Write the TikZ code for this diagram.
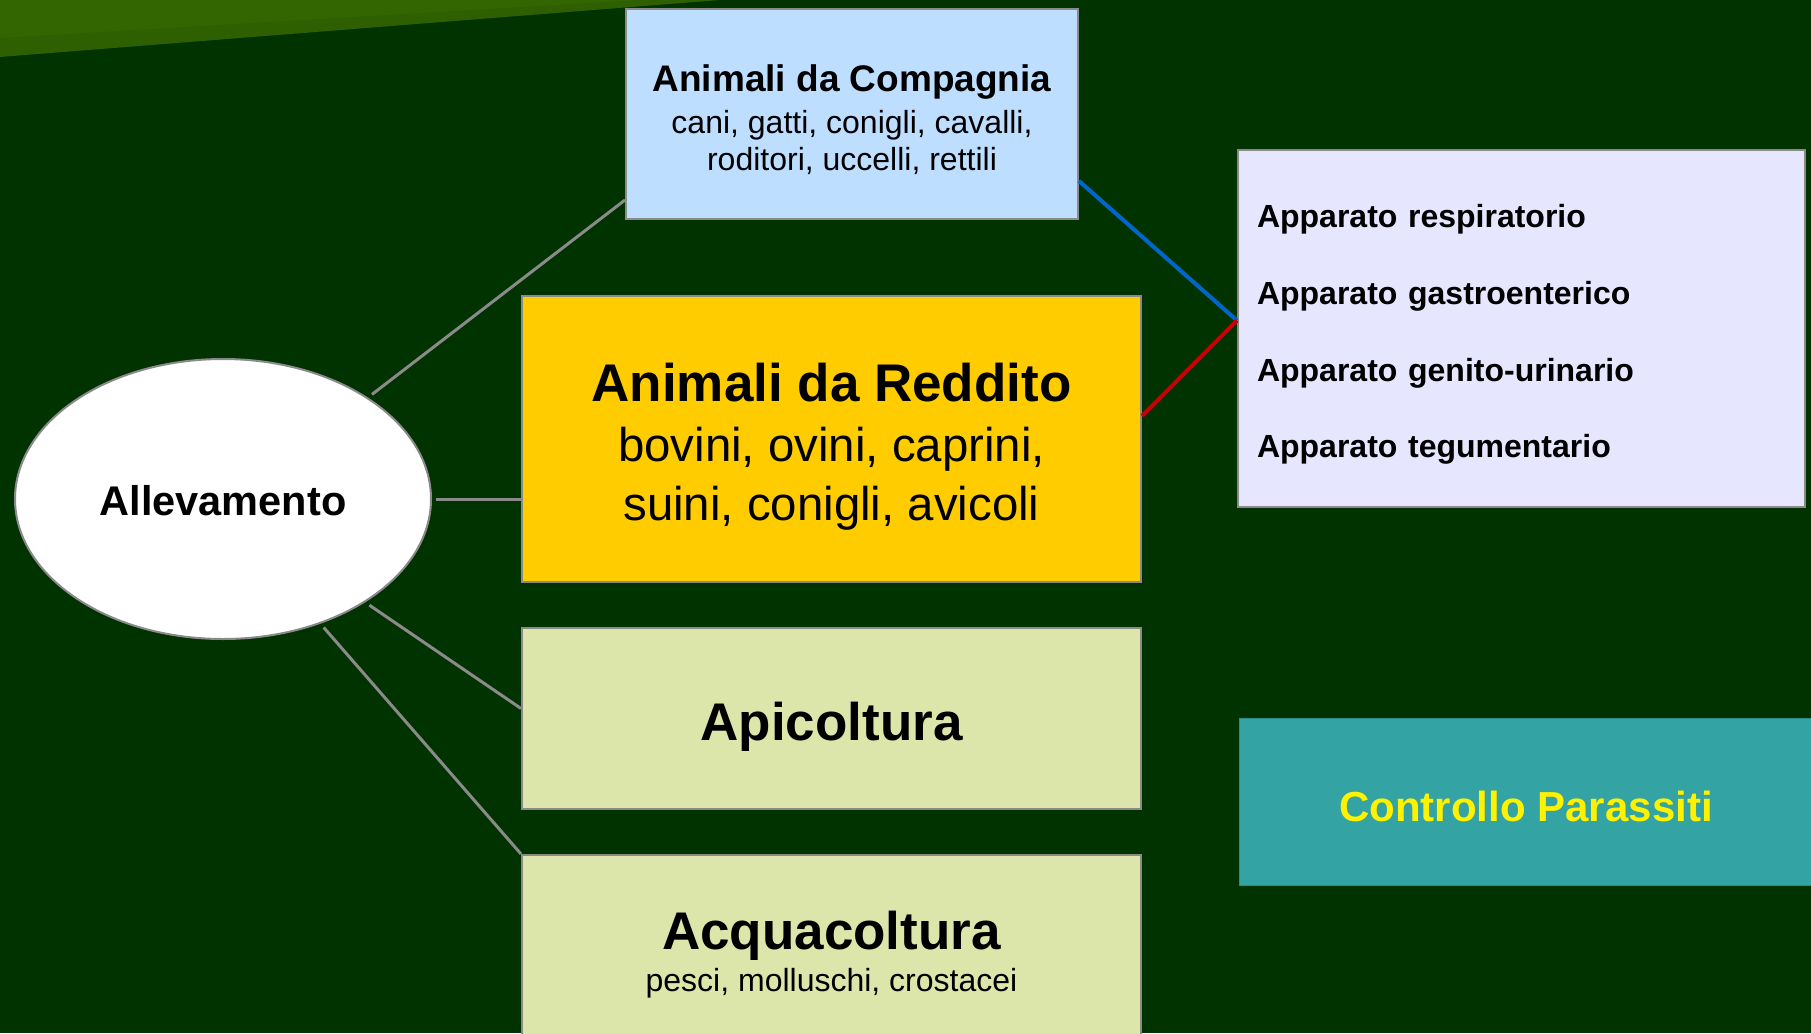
\documentclass[tikz,border=0pt]{standalone}
\usepackage{fontspec}
\setmainfont{Liberation Sans}
\usetikzlibrary{shapes.geometric,calc}
\definecolor{bgc}{HTML}{003300}
\definecolor{bandA}{HTML}{336600}
\definecolor{bandB}{HTML}{2E5F00}
\definecolor{edgec}{HTML}{8A8A8A}
\definecolor{compc}{HTML}{BDDEFF}
\definecolor{redc}{HTML}{FFCC00}
\definecolor{aquac}{HTML}{DCE6AB}
\definecolor{appc}{HTML}{E6E6FF}
\definecolor{ctrlc}{HTML}{33A3A3}
\definecolor{bluec}{HTML}{0066CC}
\definecolor{redl}{HTML}{CC0000}
\begin{document}
\begin{tikzpicture}[x=1pt,y=-1pt,
  box/.style={draw=edgec,line width=2pt,rectangle,inner sep=0pt},
  txt/.style={inner sep=0pt,align=center,text=black},
  conn/.style={draw=edgec,line width=3pt},
]
\useasboundingbox (0,0) rectangle (1811,1033);
\clip (0,0) rectangle (1811,1033);
\fill[bgc] (0,0) rectangle (1811,1033);
\fill[bandB] (0,0) -- (720,0) -- (0,57) -- cycle;
\fill[bandA] (0,0) -- (640,0) -- (0,38) -- cycle;

% boxes
\node[box,fill=compc,minimum width=452pt,minimum height=210pt] (comp) at (852,114) {};
\node[box,fill=redc,minimum width=619pt,minimum height=286pt] (red) at (831.5,439) {};
\node[box,fill=aquac,minimum width=619pt,minimum height=181pt] (api) at (831.5,718.5) {};
\node[box,fill=aquac,minimum width=619pt,minimum height=200pt] (acq) at (831.5,955) {};
\node[box,fill=appc,minimum width=567pt,minimum height=357pt] (app) at (1521.5,328.5) {};
\node[rectangle,fill=ctrlc,draw=ctrlc!85!black,line width=1pt,minimum width=574pt,
  minimum height=167pt] (ctrl) at (1526,801.5) {};
\node[ellipse,draw=edgec,line width=2pt,fill=white,minimum width=416pt,minimum height=280pt,
  inner sep=0pt] (ell) at (223,499) {};

% texts
\node[txt,font=\fontsize{32}{37}\selectfont] (compt) at (852,120)
  {{\bfseries\fontsize{37}{42}\selectfont Animali da Compagnia}\\[5pt]
   cani, gatti, conigli, cavalli,\\ roditori, uccelli, rettili};
\node[txt,font=\fontsize{47.4}{59.5}\selectfont] (redt) at (831.5,447)
  {{\bfseries\fontsize{53}{60}\selectfont Animali da Reddito}\\
   bovini, ovini, caprini,\\ suini, conigli, avicoli};
\node[txt,font=\fontsize{53}{60}\selectfont\bfseries] (apit) at (831.5,726.5) {Apicoltura};
\node[txt,font=\fontsize{32}{42}\selectfont] (acqt) at (831.5,955)
  {{\bfseries\fontsize{53}{60}\selectfont Acquacoltura}\\ pesci, molluschi, crostacei};
\node[txt,text width=529pt,align=left,font=\fontsize{32}{76.7}\selectfont\bfseries] (appt)
  at (1521.5,334.5)
  {Apparato respiratorio\\ Apparato gastroenterico\\ Apparato genito-urinario\\ Apparato tegumentario};
\node[txt,text=yellow,font=\fontsize{42}{48}\selectfont\bfseries] (ctrlt) at (1526,806.5)
  {Controllo Parassiti};
\node[txt,font=\fontsize{41.5}{48}\selectfont\bfseries] (ellt) at (223,501) {Allevamento};

% connectors
\draw[conn,shorten <=5pt] (ell.35) -- ([yshift=20pt]comp.south west);
\draw[conn,shorten <=4pt] (ell.east) -- (ell.east -| red.west);
\draw[conn,shorten <=5pt] (ell.-36) -- ([yshift=10pt]api.west);
\draw[conn,shorten <=5pt] (ell.-52) -- (acq.north west);
\draw[bluec,line width=4pt] ([yshift=-67pt]comp.east) -- ([yshift=8pt]app.west);
\draw[redl,line width=4pt] ([yshift=23pt]red.east) -- ([yshift=8pt]app.west);
\end{tikzpicture}
\end{document}
